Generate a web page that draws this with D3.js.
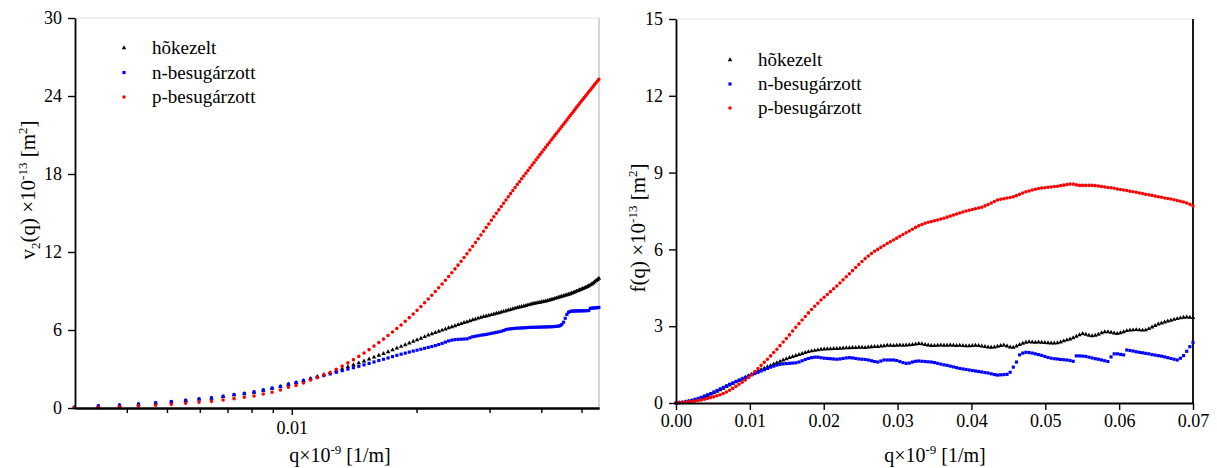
<!DOCTYPE html>
<html lang="hu">
<head>
<meta charset="UTF-8">
<title>v2(q) es f(q)</title>
<script src="https://d3js.org/d3.v7.min.js"></script>
<style>
  body { margin: 0; background: #fff; }
  svg text { font-family: "Liberation Serif", "Times New Roman", serif; fill: #000; }
</style>
</head>
<body>
<svg id="chart" width="1217" height="468"></svg>
<script>
// q grid: q_i = i * 0.07/164
const qStep = 0.07 / 164;
const v2StartIndex = 7;   // left chart starts at q ~ 0.003

const seriesNames = ["hõkezelt", "n-besugárzott", "p-besugárzott"];

// left chart: v2(q) x 1e-13 [m2], indices 7..129
const hokezeltV2 = [0.05,0.15,0.2,0.28,0.38,0.46,0.56,0.67,0.74,0.87,
  1.0,1.08,1.2,1.36,1.51,1.64,1.82,1.95,2.11,2.26,
  2.41,2.56,2.71,2.86,3.01,3.16,3.31,3.46,3.61,3.76,
  3.9,4.04,4.18,4.32,4.46,4.6,4.73,4.86,4.99,5.12,
  5.24,5.36,5.48,5.6,5.7,5.8,5.89,5.98,6.07,6.16,
  6.24,6.32,6.4,6.48,6.56,6.63,6.7,6.77,6.84,6.9,
  6.96,7.02,7.07,7.12,7.17,7.22,7.27,7.32,7.37,7.42,
  7.47,7.52,7.57,7.62,7.67,7.72,7.76,7.8,7.84,7.88,
  7.92,7.96,8.0,8.04,8.07,8.1,8.13,8.16,8.19,8.22,
  8.26,8.3,8.34,8.38,8.42,8.46,8.5,8.54,8.58,8.62,
  8.66,8.7,8.74,8.78,8.83,8.88,8.93,8.98,9.03,9.08,
  9.13,9.18,9.23,9.28,9.33,9.39,9.46,9.53,9.61,9.7,
  9.79,9.88,9.97];
const nBesugV2 = [0.06,0.16,0.22,0.3,0.4,0.49,0.59,0.7,0.78,0.9,
  1.03,1.12,1.24,1.39,1.53,1.66,1.83,1.96,2.1,2.23,
  2.36,2.49,2.62,2.75,2.87,2.99,3.1,3.21,3.32,3.43,
  3.54,3.65,3.75,3.85,3.95,4.05,4.14,4.22,4.3,4.38,
  4.45,4.52,4.59,4.66,4.73,4.8,4.88,4.97,5.07,5.16,
  5.22,5.26,5.28,5.29,5.3,5.32,5.4,5.48,5.52,5.56,
  5.6,5.63,5.66,5.7,5.74,5.78,5.82,5.86,5.9,5.96,
  6.03,6.07,6.09,6.11,6.13,6.14,6.15,6.16,6.17,6.18,
  6.19,6.2,6.2,6.21,6.21,6.22,6.22,6.23,6.23,6.24,
  6.24,6.25,6.25,6.26,6.27,6.28,6.3,6.33,6.42,6.6,
  6.9,7.2,7.36,7.43,7.45,7.46,7.46,7.47,7.47,7.47,
  7.48,7.48,7.48,7.49,7.49,7.5,7.66,7.68,7.69,7.7,
  7.71,7.72,7.74];
const pBesugV2 = [0.02,0.05,0.1,0.15,0.21,0.28,0.36,0.44,0.51,0.62,
  0.72,0.82,0.92,1.08,1.21,1.38,1.59,1.74,1.92,2.15,
  2.33,2.54,2.72,2.97,3.22,3.47,3.72,3.97,4.23,4.49,
  4.76,5.03,5.3,5.57,5.84,6.11,6.39,6.67,6.95,7.23,
  7.51,7.8,8.09,8.38,8.67,8.96,9.25,9.54,9.83,10.12,
  10.41,10.7,10.99,11.28,11.57,11.86,12.15,12.44,12.73,13.02,
  13.31,13.6,13.88,14.16,14.44,14.71,14.98,15.24,15.5,15.75,
  16.0,16.25,16.49,16.73,16.96,17.19,17.41,17.63,17.85,18.06,
  18.27,18.48,18.69,18.89,19.09,19.29,19.49,19.68,19.87,20.06,
  20.25,20.43,20.61,20.79,20.97,21.14,21.31,21.48,21.65,21.82,
  21.99,22.16,22.33,22.49,22.65,22.81,22.97,23.13,23.29,23.44,
  23.59,23.74,23.89,24.04,24.18,24.32,24.46,24.6,24.74,24.88,
  25.02,25.15,25.28];

// right chart: f(q) x 1e-13 [m2], indices 0..164
const hokezeltF = [0,0.01,0.02,0.04,0.06,0.09,0.12,0.15,0.19,0.24,
  0.29,0.34,0.39,0.45,0.51,0.57,0.64,0.7,0.76,0.82,
  0.88,0.94,1.0,1.06,1.12,1.18,1.24,1.3,1.35,1.41,
  1.46,1.52,1.57,1.62,1.67,1.72,1.77,1.81,1.85,1.89,
  1.93,1.97,2.0,2.03,2.05,2.07,2.09,2.1,2.11,2.11,
  2.12,2.12,2.13,2.14,2.15,2.15,2.16,2.16,2.17,2.17,
  2.16,2.18,2.19,2.2,2.2,2.22,2.23,2.25,2.25,2.24,
  2.25,2.26,2.25,2.26,2.27,2.28,2.3,2.32,2.31,2.28,
  2.26,2.24,2.24,2.25,2.26,2.25,2.25,2.26,2.25,2.24,
  2.25,2.24,2.23,2.23,2.24,2.25,2.24,2.22,2.2,2.18,
  2.17,2.18,2.21,2.24,2.26,2.22,2.18,2.17,2.22,2.28,
  2.33,2.37,2.39,2.38,2.37,2.38,2.37,2.36,2.35,2.34,
  2.34,2.35,2.38,2.42,2.46,2.49,2.54,2.6,2.66,2.71,
  2.68,2.64,2.62,2.64,2.68,2.74,2.78,2.78,2.76,2.73,
  2.71,2.74,2.78,2.82,2.84,2.85,2.86,2.85,2.84,2.85,
  2.9,2.96,3.02,3.08,3.12,3.16,3.2,3.23,3.26,3.29,
  3.32,3.34,3.35,3.34,3.33];
const nBesugF = [0,0.01,0.02,0.04,0.07,0.1,0.14,0.18,0.22,0.27,
  0.32,0.37,0.43,0.49,0.55,0.61,0.67,0.73,0.78,0.84,
  0.89,0.94,1.0,1.05,1.1,1.15,1.2,1.25,1.3,1.35,
  1.4,1.44,1.48,1.51,1.53,1.54,1.55,1.56,1.57,1.6,
  1.65,1.7,1.74,1.77,1.79,1.79,1.77,1.75,1.74,1.73,
  1.72,1.71,1.72,1.74,1.76,1.77,1.76,1.74,1.72,1.71,
  1.7,1.68,1.65,1.62,1.6,1.64,1.68,1.68,1.68,1.68,
  1.66,1.62,1.58,1.55,1.56,1.6,1.63,1.64,1.63,1.62,
  1.61,1.6,1.58,1.55,1.52,1.49,1.47,1.44,1.41,1.38,
  1.35,1.33,1.31,1.29,1.27,1.25,1.23,1.21,1.19,1.17,
  1.14,1.11,1.09,1.1,1.11,1.12,1.2,1.4,1.6,1.88,
  1.95,1.98,1.97,1.95,1.92,1.89,1.86,1.82,1.78,1.75,
  1.73,1.72,1.7,1.69,1.68,1.66,1.63,1.84,1.84,1.83,
  1.82,1.79,1.76,1.73,1.71,1.68,1.65,1.62,1.8,1.92,
  1.92,1.9,1.88,2.07,2.05,2.03,2.0,1.98,1.96,1.94,
  1.92,1.89,1.87,1.85,1.83,1.8,1.77,1.74,1.71,1.68,
  1.75,1.85,2.02,2.2,2.36];
const pBesugF = [0,0.01,0.02,0.03,0.05,0.06,0.08,0.1,0.12,0.15,
  0.18,0.21,0.24,0.28,0.32,0.37,0.43,0.5,0.57,0.65,
  0.73,0.81,0.9,1.0,1.11,1.23,1.35,1.47,1.59,1.71,
  1.84,1.97,2.1,2.24,2.38,2.52,2.66,2.81,2.96,3.1,
  3.24,3.38,3.52,3.65,3.78,3.9,4.02,4.13,4.24,4.35,
  4.46,4.57,4.69,4.81,4.93,5.05,5.17,5.29,5.41,5.53,
  5.64,5.74,5.84,5.93,6.0,6.08,6.15,6.23,6.3,6.37,
  6.44,6.51,6.58,6.65,6.72,6.79,6.86,6.92,6.97,7.02,
  7.06,7.09,7.12,7.15,7.19,7.22,7.26,7.3,7.34,7.38,
  7.42,7.46,7.5,7.53,7.56,7.59,7.62,7.65,7.7,7.75,
  7.81,7.87,7.93,7.96,7.98,8.01,8.03,8.06,8.1,8.15,
  8.2,8.25,8.28,8.32,8.35,8.38,8.4,8.41,8.43,8.44,
  8.46,8.47,8.49,8.51,8.53,8.55,8.55,8.52,8.5,8.5,
  8.5,8.5,8.5,8.49,8.48,8.46,8.44,8.42,8.41,8.39,
  8.36,8.34,8.32,8.3,8.27,8.25,8.23,8.2,8.18,8.15,
  8.13,8.11,8.08,8.06,8.04,8.01,7.99,7.97,7.94,7.91,
  7.88,7.85,7.81,7.76,7.7];

const leftYTicks = [0, 6, 12, 18, 24, 30];
const rightYTicks = [0, 3, 6, 9, 12, 15];
const rightXTicks = [0, 0.01, 0.02, 0.03, 0.04, 0.05, 0.06, 0.07];
const leftXMinor = [0.004, 0.005, 0.006, 0.007, 0.008, 0.009, 0.02, 0.03, 0.04, 0.05];
const leftXMajor = [0.01];

const colors = ["#000000", "#0000ff", "#ff0000"];
const shapes = [d3.symbolTriangle, d3.symbolSquare, d3.symbolCircle];
const sizes = [9, 10, 10];

const svg = d3.select("#chart");

function toPoints(values, start) {
  return values.map((v, k) => ({ q: (start + k) * qStep, v: v }));
}

function richText(g, parts, attrs) {
  const t = g.append("text");
  Object.keys(attrs).forEach(k => t.attr(k, attrs[k]));
  parts.forEach(p => {
    const s = t.append("tspan").text(p[0]);
    if (p[1] === "sup") s.attr("font-size", "13px").attr("dy", "-8");
    if (p[1] === "sub") s.attr("font-size", "13px").attr("dy", "5");
    if (p[1] === "back-sup") s.attr("dy", "8");
    if (p[1] === "back-sub") s.attr("dy", "-5");
  });
  return t;
}

function drawSeries(g, x, y, lists, start) {
  lists.forEach((vals, s) => {
    const sym = d3.symbol().type(shapes[s]).size(sizes[s]);
    g.append("g").selectAll("path")
      .data(toPoints(vals, start))
      .join("path")
        .attr("transform", d => `translate(${x(d.q)},${y(d.v)})`)
        .attr("d", sym)
        .attr("fill", colors[s]);
  });
}

function drawLegend(g, x0, y0, gap) {
  seriesNames.forEach((name, s) => {
    const row = g.append("g").attr("transform", `translate(${x0},${y0 + s * gap})`);
    row.append("path").attr("d", d3.symbol().type(shapes[s]).size(sizes[s])).attr("fill", colors[s]);
    row.append("text").attr("x", 28).attr("y", 6).attr("font-size", "19px").text(name);
  });
}

function styleAxis(sel) {
  sel.select(".domain").attr("stroke", "#000").attr("stroke-width", 1.8);
  sel.selectAll(".tick line").attr("stroke", "#000").attr("stroke-width", 1.4);
  sel.selectAll(".tick text").attr("font-size", "18px").attr("fill", "#000")
    .attr("font-family", "Liberation Serif, Times New Roman, serif");
}

// ---------- left chart ----------
const xL = d3.scaleLog().domain([0.003, 0.0551]).range([75, 599]);
const yL = d3.scaleLinear().domain([0, 30]).range([408, 18]);
const gL = svg.append("g");

gL.append("line").attr("x1", 75).attr("x2", 599).attr("y1", 18).attr("y2", 18).attr("stroke", "#e4e4e4");
gL.append("line").attr("x1", 599).attr("x2", 599).attr("y1", 18).attr("y2", 408).attr("stroke", "#c8c8c8").attr("stroke-width", 1.5);

drawSeries(gL, xL, yL, [hokezeltV2, nBesugV2, pBesugV2], v2StartIndex);

gL.append("g").attr("transform", "translate(0,408)")
  .call(d3.axisBottom(xL).tickValues(leftXMinor).tickFormat("").tickSize(5).tickSizeOuter(0))
  .call(styleAxis);
gL.append("g").attr("transform", "translate(0,408)")
  .call(d3.axisBottom(xL).tickValues(leftXMajor).tickFormat(d3.format(".2f")).tickSize(7).tickPadding(6).tickSizeOuter(0))
  .call(styleAxis);
gL.append("g").attr("transform", "translate(75,0)")
  .call(d3.axisLeft(yL).tickValues(leftYTicks).tickSize(7).tickPadding(6).tickSizeOuter(0))
  .call(styleAxis);

drawLegend(gL, 124, 48, 24.5);

richText(gL, [["q×10"], ["-9", "sup"], [" [1/m]", "back-sup"]],
  { x: 340, y: 462, "text-anchor": "middle", "font-size": "20px" });
richText(gL, [["v"], ["2", "sub"], ["(q) ×10", "back-sub"], ["-13", "sup"], [" [m", "back-sup"], ["2", "sup"], ["]", "back-sup"]],
  { transform: "translate(35,190) rotate(-90)", "text-anchor": "middle", "font-size": "21px" });

// ---------- right chart ----------
const xR = d3.scaleLinear().domain([0, 0.07]).range([676, 1193]);
const yR = d3.scaleLinear().domain([0, 15]).range([403, 19]);
const gR = svg.append("g");

gR.append("line").attr("x1", 676).attr("x2", 1193).attr("y1", 19).attr("y2", 19).attr("stroke", "#e4e4e4");
gR.append("line").attr("x1", 1193).attr("x2", 1193).attr("y1", 19).attr("y2", 403).attr("stroke", "#000").attr("stroke-width", 1.8);

drawSeries(gR, xR, yR, [hokezeltF, nBesugF, pBesugF], 0);

gR.append("g").attr("transform", "translate(0,403)")
  .call(d3.axisBottom(xR).tickValues(rightXTicks).tickFormat(d3.format(".2f")).tickSize(7).tickPadding(4).tickSizeOuter(0))
  .call(styleAxis);
gR.append("g").attr("transform", "translate(676,0)")
  .call(d3.axisLeft(yR).tickValues(rightYTicks).tickSize(7).tickPadding(6).tickSizeOuter(0))
  .call(styleAxis);

drawLegend(gR, 730, 60, 24);

richText(gR, [["q×10"], ["-9", "sup"], [" [1/m]", "back-sup"]],
  { x: 935, y: 462, "text-anchor": "middle", "font-size": "20px" });
richText(gR, [["f(q) ×10"], ["-13", "sup"], [" [m", "back-sup"], ["2", "sup"], ["]", "back-sup"]],
  { transform: "translate(645,228) rotate(-90)", "text-anchor": "middle", "font-size": "21px" });
</script>
</body>
</html>
